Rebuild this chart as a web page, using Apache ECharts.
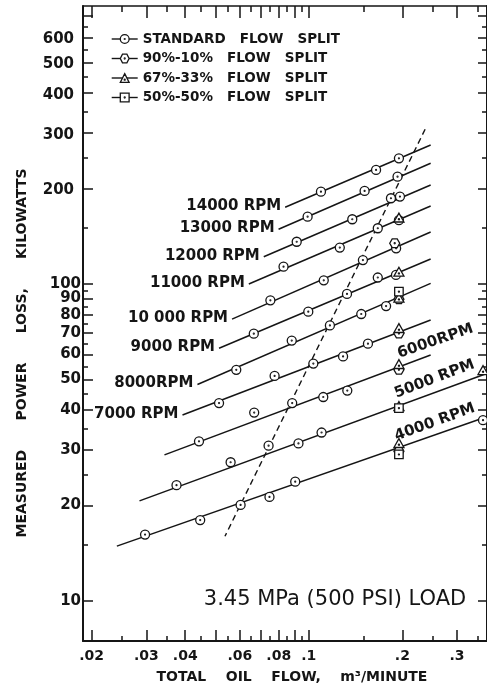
<!DOCTYPE html>
<html>
<head>
<meta charset="utf-8">
<title>Measured power loss vs total oil flow</title>
<script src="https://cdn.jsdelivr.net/npm/echarts@6/dist/echarts.min.js"></script>
<style>
  html, body { margin: 0; padding: 0; background: #fff; }
  #chart { width: 487px; height: 689px; }
</style>
</head>
<body>
<div id="chart"></div>
<script>
// axis ranges (log-log)
const xMin = 0.01875, xMax = 0.3746;
const yMin = 7.48, yMax = 753;

const xLabelValues = [0.02, 0.03, 0.04, 0.06, 0.08, 0.1, 0.2, 0.3];
const xMajorTicks = [0.02, 0.03, 0.04, 0.05, 0.06, 0.07, 0.08, 0.09, 0.1, 0.2, 0.3];
const xMinorTicks = [0.025, 0.035, 0.045, 0.055, 0.065, 0.075, 0.085, 0.095, 0.15, 0.25, 0.35];
const yLabelValues = [10, 20, 30, 40, 50, 60, 70, 80, 90, 100, 200, 300, 400, 500, 600];
const yMajorTicks = [10, 20, 30, 40, 50, 60, 70, 80, 90, 100, 200, 300, 400, 500, 600, 700];
const yMinorTicks = [15, 25, 35, 45, 55, 65, 75, 85, 95, 150, 250, 350, 450, 550, 650];

// fitted line for each speed: [start, end] as [m3/min, kW]
const rpmLabels = ['14000 RPM', '13000 RPM', '12000 RPM', '11000 RPM', '10 000 RPM',
  '9000 RPM', '8000RPM', '7000 RPM', '6000RPM', '5000 RPM', '4000 RPM'];
const rpmLines = [
  [[0.0839, 174.6], [0.2467, 274.5]],
  [[0.0799, 148.8], [0.2467, 240.3]],
  [[0.0716, 121.9], [0.2467, 205.3]],
  [[0.0641, 100.0], [0.2467, 176.2]],
  [[0.0566, 77.5], [0.2467, 145.9]],
  [[0.0514, 62.7], [0.2467, 119.9]],
  [[0.0438, 48.2], [0.2467, 100.4]],
  [[0.0392, 38.6], [0.2467, 77.0]],
  [[0.0343, 28.9], [0.2467, 59.7]],
  [[0.0285, 20.7], [0.37, 52.0]],
  [[0.0241, 14.9], [0.37, 38.0]]
];

// dashed boundary line
const dashedLine = [[0.2368, 307.6], [0.0537, 16.0]];

// measured points by flow split
const splitNames = ['STANDARD   FLOW   SPLIT', '90%-10%   FLOW   SPLIT',
  '67%-33%   FLOW   SPLIT', '50%-50%   FLOW   SPLIT'];
const standardPoints = [
  [0.1094, 195.5], [0.1646, 228.9], [0.195, 249.0],
  [0.0991, 163.0], [0.1512, 196.6], [0.193, 218.0],
  [0.0914, 135.9], [0.138, 160.0], [0.1838, 186.4], [0.1965, 188.6],
  [0.0829, 113.4], [0.1258, 130.3], [0.1667, 149.9], [0.195, 159.0],
  [0.0752, 88.8], [0.1117, 102.7], [0.1493, 119.0], [0.191, 129.6],
  [0.0665, 69.7], [0.0996, 81.8], [0.1327, 93.0], [0.1667, 104.8], [0.1908, 106.8],
  [0.0584, 53.6], [0.0881, 66.3], [0.1169, 74.0], [0.1475, 80.4], [0.1773, 85.2],
  [0.0514, 42.1], [0.0776, 51.3], [0.1034, 56.1], [0.1289, 59.1], [0.155, 64.8],
  [0.0443, 31.9], [0.0667, 39.3], [0.0884, 42.1], [0.1113, 44.0], [0.133, 46.1],
  [0.0375, 23.2], [0.056, 27.4], [0.0742, 30.9], [0.0926, 31.4], [0.1099, 34.0],
  [0.0297, 16.2], [0.0447, 18.0], [0.0603, 20.1], [0.0747, 21.3], [0.0904, 23.8], [0.3637, 37.2]
];
const split9010Points = [[0.189, 134.4], [0.195, 89.5], [0.195, 69.8], [0.195, 53.6], [0.195, 29.7]];
const split6733Points = [[0.195, 162.0], [0.195, 109.3], [0.195, 90.5], [0.195, 72.6], [0.195, 55.9],
  [0.195, 41.2], [0.195, 31.5], [0.3637, 53.5]];
const split5050Points = [[0.195, 94.6], [0.195, 40.6], [0.195, 29.0]];

const ink = '#151515';
const font = 'DejaVu Sans';
const dot = 'M0,-1A1,1,0,1,1,0,1A1,1,0,1,1,0,-1Z';
const splitSymbols = [
  'path://M0,-10A10,10,0,1,1,0,10A10,10,0,1,1,0,-10Z' + dot,
  'path://M-10,0L-5,-8.7L5,-8.7L10,0L5,8.7L-5,8.7Z' + dot,
  'path://M0,-10L9,6L-9,6Z' + 'M0,0A1,1,0,1,1,0,2A1,1,0,1,1,0,0Z',
  'path://M-9,-9L9,-9L9,9L-9,9Z' + dot
];
const splitSizes = [9, 10, 10, 8.5];
const splitData = [standardPoints, split9010Points, split6733Points, split5050Points];

// rotated labels on the right-hand lines (6000, 5000, 4000)
const rightLabelStyle = [
  { align: 'center', verticalAlign: 'bottom', rotate: 19, offset: [9, -4] },
  { align: 'right', verticalAlign: 'bottom', rotate: 21, offset: [-7, -6] },
  { align: 'right', verticalAlign: 'bottom', rotate: 20, offset: [-7, -5] }
];

const chart = echarts.init(document.getElementById('chart'), null, { renderer: 'canvas' });

const lineSeries = rpmLines.map((pts, i) => {
  const leftSide = i < 8;
  return {
    name: rpmLabels[i],
    type: 'line',
    data: pts.map((p, j) => {
      const show = leftSide ? j === 0 : j === 1;
      let label = { show: false };
      if (show) {
        label = leftSide
          ? { show: true, position: 'left', distance: 4, offset: [0, -1] }
          : Object.assign({ show: true, position: 'inside' }, rightLabelStyle[i - 8]);
      }
      return { value: p, label: label };
    }),
    symbol: 'circle',
    symbolSize: 0,
    showSymbol: true,
    lineStyle: { color: ink, width: 1.5 },
    itemStyle: { color: ink },
    label: {
      formatter: rpmLabels[i],
      fontSize: 15,
      fontWeight: 'bold',
      fontFamily: font,
      color: ink
    },
    silent: true,
    z: 2
  };
});

const pointSeries = splitNames.map((name, i) => ({
  name: name,
  type: 'line',
  data: splitData[i],
  symbol: splitSymbols[i],
  symbolSize: splitSizes[i],
  symbolKeepAspect: true,
  showSymbol: true,
  lineStyle: { width: 0 },
  itemStyle: { color: '#fff', borderColor: ink, borderWidth: 1.3 },
  silent: true,
  z: 5 + i
}));

const dashedSeries = {
  name: 'boundary',
  type: 'line',
  data: dashedLine,
  symbol: 'none',
  lineStyle: { color: ink, width: 1.4, type: [6, 4] },
  silent: true,
  z: 3
};

function logAxis(extra) {
  return Object.assign({
    type: 'log',
    gridIndex: 0,
    splitLine: { show: false },
    axisLine: { show: false, onZero: false },
    axisLabel: { show: false },
    axisTick: { show: false }
  }, extra);
}

const tickLine = { color: ink, width: 1.5 };

const option = {
  animation: false,
  backgroundColor: '#fff',
  textStyle: { fontFamily: font },
  grid: { left: 83, right: -3, top: 6, bottom: 48 },
  legend: {
    data: splitNames,
    orient: 'vertical',
    left: 106,
    top: 27,
    itemWidth: 26,
    itemHeight: 11,
    itemGap: 5.5,
    selectedMode: false,
    textStyle: { fontSize: 13.5, fontWeight: 'bold', fontFamily: font, color: ink },
    lineStyle: { width: 1.4, color: ink },
    itemStyle: { color: '#fff', borderColor: ink, borderWidth: 1.3 }
  },
  xAxis: [
    logAxis({
      min: xMin, max: xMax, position: 'bottom',
      axisLine: { show: true, onZero: false, lineStyle: { color: ink, width: 2 } },
      axisTick: { show: true, inside: true, length: 11, customValues: xMajorTicks, lineStyle: tickLine },
      axisLabel: {
        show: true, customValues: xLabelValues, margin: 8,
        fontSize: 14, fontWeight: 'bold', fontFamily: font, color: ink,
        formatter: v => String(v).replace(/^0/, '')
      },
      name: 'TOTAL    OIL    FLOW,    m³/MINUTE',
      nameLocation: 'middle',
      nameGap: 29,
      nameTextStyle: { fontSize: 14, fontWeight: 'bold', fontFamily: font, color: ink, padding: [0, 0, 0, 14] }
    }),
    logAxis({
      min: xMin, max: xMax, position: 'bottom',
      axisTick: { show: true, inside: true, length: 5, customValues: xMinorTicks, lineStyle: tickLine }
    }),
    logAxis({
      min: xMin, max: xMax, position: 'top',
      axisLine: { show: true, onZero: false, lineStyle: { color: ink, width: 1.6 } },
      axisTick: { show: true, inside: true, length: 12, customValues: xMajorTicks, lineStyle: tickLine }
    }),
    logAxis({
      min: xMin, max: xMax, position: 'top',
      axisTick: { show: true, inside: true, length: 6, customValues: xMinorTicks, lineStyle: tickLine }
    })
  ],
  yAxis: [
    logAxis({
      min: yMin, max: yMax, position: 'left',
      axisLine: { show: true, onZero: false, lineStyle: { color: ink, width: 2 } },
      axisTick: { show: true, inside: true, length: 10, customValues: yMajorTicks, lineStyle: tickLine },
      axisLabel: {
        show: true, customValues: yLabelValues, margin: 2,
        fontSize: 15, fontWeight: 'bold', fontFamily: font, color: ink,
        formatter: v => (v >= 200 ? '{far|' + v + '}' : '{near|' + v + '}'),
        rich: {
          far: { fontSize: 15, fontWeight: 'bold', fontFamily: font, color: ink, padding: [4, 7, 0, 0] },
          near: { fontSize: 15, fontWeight: 'bold', fontFamily: font, color: ink }
        }
      }
    }),
    logAxis({
      min: yMin, max: yMax, position: 'left',
      axisTick: { show: true, inside: true, length: 5, customValues: yMinorTicks, lineStyle: tickLine }
    }),
    logAxis({
      min: yMin, max: yMax, position: 'right',
      axisLine: { show: true, onZero: false, lineStyle: { color: ink, width: 2 } },
      axisTick: { show: true, inside: true, length: 9, customValues: yMajorTicks, lineStyle: tickLine }
    }),
    logAxis({
      min: yMin, max: yMax, position: 'right',
      axisTick: { show: true, inside: true, length: 5, customValues: yMinorTicks, lineStyle: tickLine }
    })
  ],
  graphic: [
    {
      type: 'text', x: 22, y: 353, rotation: Math.PI / 2, silent: true,
      style: {
        text: 'MEASURED      POWER      LOSS,      KILOWATTS',
        fontSize: 14, fontWeight: 'bold', fontFamily: font, fill: ink,
        align: 'center', verticalAlign: 'middle'
      }
    },
    {
      type: 'text', x: 335, y: 600, silent: true,
      style: {
        text: '3.45 MPa (500 PSI) LOAD',
        fontSize: 21, fontFamily: font, fill: ink,
        align: 'center', verticalAlign: 'middle'
      }
    }
  ],
  series: lineSeries.concat([dashedSeries], pointSeries)
};

chart.setOption(option);
</script>
</body>
</html>
